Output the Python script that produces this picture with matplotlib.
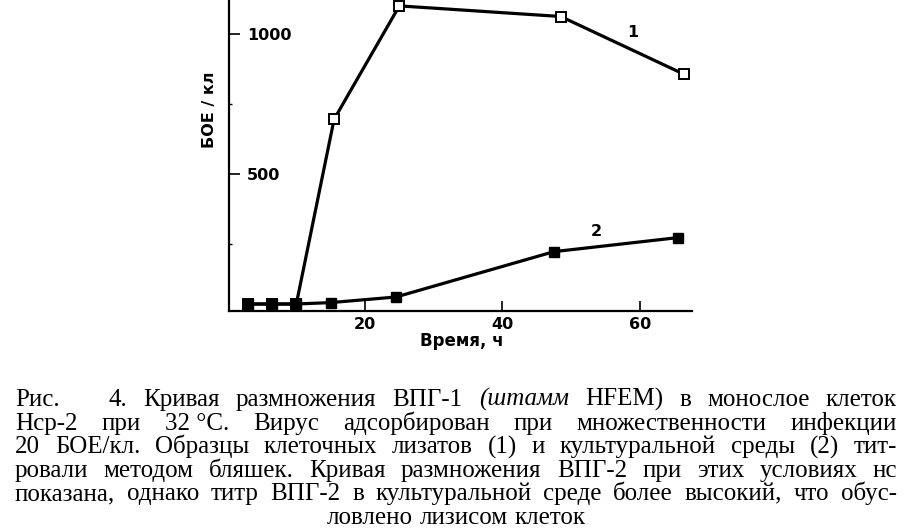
import re
import matplotlib
matplotlib.use('Agg')
import matplotlib.pyplot as plt
from matplotlib.ticker import FixedLocator

# curve 1 - cell lysates (open squares)
time_1 = [3, 6.5, 10, 15.5, 25, 48.5, 66.5]
titre_1 = [35, 35, 35, 695, 1100, 1062, 855]
# curve 2 - culture medium (filled squares)
time_2 = [3, 6.5, 10, 15, 24.5, 47.5, 65.5]
titre_2 = [35, 35, 35, 40, 60, 222, 272]

x_ticks = [20, 40, 60]
y_ticks = [500, 1000]
y_minor = [250, 750]

caption_lines = [
    "Рис.   4. Кривая размножения ВПГ-1 (штамм HFEM) в монослое клеток",
    "Нср-2 при 32\u00a0°С. Вирус адсорбирован при множественности инфекции",
    "20 БОЕ/кл. Образцы клеточных лизатов (1) и культуральной среды (2) тит-",
    "ровали методом бляшек. Кривая размножения ВПГ-2 при этих условиях нс",
    "показана, однако титр ВПГ-2 в культуральной среде более высокий, что обус-",
    "ловлено лизисом клеток",
]
italic_words = ["(штамм"]

W, H = 910, 529
fig = plt.figure(figsize=(W / 100, H / 100), dpi=100)
ax = fig.add_axes([229 / W, 1 - 311 / H, (692 - 229) / W, 311 / H])

ax.plot(time_1, titre_1, color='black', lw=2.3, marker='s', ms=7,
        mfc='white', mec='black', mew=1.4, zorder=3)
ax.plot(time_2, titre_2, color='black', lw=2.3, marker='s', ms=7.5,
        mfc='black', mec='black', zorder=4)

ax.set_xlim(0.2, 67.6)
ax.set_ylim(10, 1121)

for s in ['top', 'right']:
    ax.spines[s].set_visible(False)
for s in ['left', 'bottom']:
    ax.spines[s].set_linewidth(1.6)

tick_font = dict(family='DejaVu Sans', weight='bold', size=11.5)
ax.xaxis.set_major_locator(FixedLocator(x_ticks))
ax.yaxis.set_major_locator(FixedLocator(y_ticks))
ax.yaxis.set_minor_locator(FixedLocator(y_minor))
ax.set_xticklabels([str(v) for v in x_ticks], fontdict=tick_font)
ax.set_yticklabels([str(v) for v in y_ticks], fontdict=tick_font)
ax.tick_params(axis='x', direction='in', length=7, width=1.2, pad=4)
ax.tick_params(axis='y', which='major', direction='in', length=8, width=1.2, pad=-13)
ax.tick_params(axis='y', which='minor', direction='in', length=2, width=1)
for lab in ax.get_yticklabels():
    lab.set_horizontalalignment('left')

ax.set_xlabel('Время, ч', fontdict=dict(family='DejaVu Sans', weight='bold', size=12))
ax.xaxis.set_label_coords(0.503, -0.068)
ax.set_ylabel('БОЕ / кл', fontdict=dict(family='DejaVu Sans', weight='bold', size=11.5))
ax.yaxis.set_label_coords(-0.026, 0.646)

ax.text(59, 1004, '1', fontdict=tick_font, ha='center', va='center')
ax.text(53.7, 293, '2', fontdict=tick_font, ha='center', va='center')

# caption, justified by hand
renderer = fig.canvas.get_renderer()
left, right = 15, 897
base_size = 15
min_gap = 9


def make_words(line, size):
    parts = re.split(r'( +)', line)
    words = parts[0::2]
    gaps = [len(g) for g in parts[1::2]]
    texts = []
    for w in words:
        style = 'italic' if w in italic_words else 'normal'
        t = fig.text(0, 0, w, family='Liberation Serif', size=size,
                     style=style, va='baseline', ha='left')
        texts.append(t)
    widths = [t.get_window_extent(renderer).width for t in texts]
    return texts, widths, gaps


# find the font size that lets the fullest line fit
scale = 10.0
for line in caption_lines[:-1]:
    texts, widths, gaps = make_words(line, base_size)
    scale = min(scale, (right - left - min_gap * sum(gaps)) / sum(widths))
    for t in texts:
        t.remove()
cap_size = min(base_size * scale, 18)

for i, line in enumerate(caption_lines):
    baseline = 406 + i * 23.6
    texts, widths, gaps = make_words(line, cap_size)
    if i == len(caption_lines) - 1:
        unit = 7
        x = (left + right) / 2 - (sum(widths) + unit * sum(gaps)) / 2
    else:
        unit = (right - left - sum(widths)) / sum(gaps)
        x = left
    for j, t in enumerate(texts):
        t.set_position((x / W, 1 - baseline / H))
        x += widths[j]
        if j < len(gaps):
            x += unit * gaps[j]

fig.savefig('out.png', dpi=100)
